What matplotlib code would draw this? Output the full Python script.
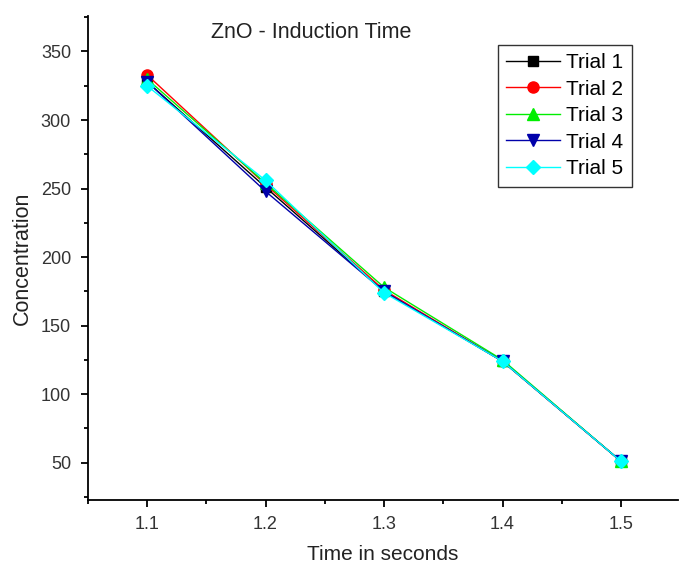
import numpy as np
import matplotlib.pyplot as plt
from matplotlib.ticker import MultipleLocator

plt.rcParams['font.family'] = ['Liberation Sans', 'DejaVu Sans']

time = [1.1, 1.2, 1.3, 1.4, 1.5]
trial1 = [328, 251, 175, 124, 51]
trial2 = [333, 253, 176, 124, 51]
trial3 = [330, 254, 178, 125, 51]
trial4 = [328, 248, 175, 124, 51]
trial5 = [325, 256, 174, 124, 51]
labels = ['Trial 1', 'Trial 2', 'Trial 3', 'Trial 4', 'Trial 5']
colors = ['black', 'red', '#00ee00', '#0000aa', 'cyan']
markers = ['s', 'o', '^', 'v', 'D']
sizes = [7, 8, 8, 8, 7]

fig = plt.figure(figsize=(6.8, 5.66), dpi=100)
ax = fig.add_axes([0.129, 0.117, 0.868, 0.855])

for y, lab, c, m, s in zip([trial1, trial2, trial3, trial4, trial5], labels, colors, markers, sizes):
    ax.plot(time, y, color=c, marker=m, markersize=s, linewidth=1, label=lab)

ax.set_xlim(1.05, 1.548)
ax.set_ylim(23, 376)
ax.xaxis.set_major_locator(MultipleLocator(0.1))
ax.xaxis.set_minor_locator(MultipleLocator(0.05))
ax.yaxis.set_major_locator(MultipleLocator(50))
ax.yaxis.set_minor_locator(MultipleLocator(25))
ax.set_yticks(np.arange(50, 351, 50))
ax.spines['top'].set_visible(False)
ax.spines['right'].set_visible(False)
ax.spines['left'].set_linewidth(1.3)
ax.spines['bottom'].set_linewidth(1.3)
ax.tick_params(which='major', length=5, width=1.3, labelsize=13, labelcolor='#333333', pad=7)
ax.tick_params(which='minor', length=3, width=1.3)

ax.set_xlabel('Time in seconds', fontsize=15, color='#222222', labelpad=8)
ax.set_ylabel('Concentration', fontsize=15.5, color='#222222', labelpad=6)
fig.text(0.457, 0.943, 'ZnO - Induction Time', fontsize=15.5, color='#222222', ha='center', va='center')

leg = ax.legend(loc='upper right', bbox_to_anchor=(0.922, 0.94), fontsize=15, handlelength=2.6,
                frameon=True, fancybox=False, edgecolor='black', borderpad=0.4, labelspacing=0.36,
                handletextpad=0.3, borderaxespad=0)
leg.get_frame().set_linewidth(1)

fig.savefig('out.png', dpi=100)
